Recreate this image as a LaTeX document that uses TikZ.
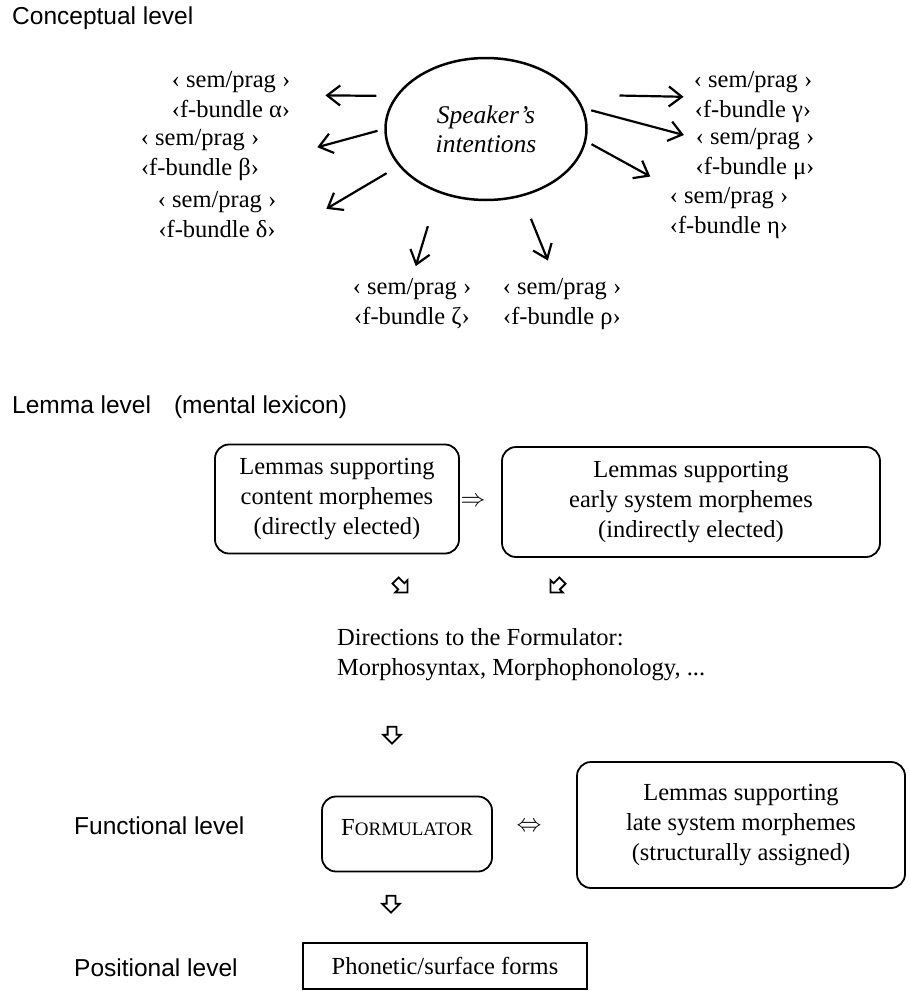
\documentclass[tikz,border=0pt]{standalone}
\usepackage{fontspec}
\setmainfont{Liberation Serif}
\setsansfont{Liberation Sans}
\usetikzlibrary{shapes.geometric,shapes.arrows,arrows.meta}
\newcommand{\fbundle}[3]{\node[bundle] (#1) at (#2) {‹ sem/prag ›\\‹f-bundle #3›};}

\begin{document}
\begin{tikzpicture}[
      x=1pt, y=-1pt,
      every node/.style={inner sep=0pt, font=\fontsize{24.5}{30}\selectfont},
      bundle/.style={align=center},
      levelname/.style={anchor=west, font=\sffamily\fontsize{24.5}{30}\selectfont},
      pointer/.style={line width=2.2pt, -{Straight Barb[length=13pt,width=20pt]}},
      lembox/.style={draw, line width=1.8pt, rounded corners=14pt, align=center, inner sep=6pt},
      hollow/.style={single arrow, draw, line width=1.8pt, inner sep=3.5pt, single arrow head extend=4.5pt, minimum height=17pt}
      ]
      \useasboundingbox (0,0) rectangle (910,991);

      % Conceptual level: the intentions and the bundles they call up
      \node[levelname] (concept) at (12,18) {Conceptual level};
      \node[ellipse, draw, line width=2.5pt, minimum width=201pt, minimum height=142pt, align=center,
            font=\itshape\fontsize{25.5}{29}\selectfont] (spk) at (486,129) {Speaker's\\intentions};

      \fbundle{alpha}{231,95}{α}
      \fbundle{beta}{200,155}{β}
      \fbundle{delta}{217,215}{δ}
      \fbundle{zeta}{412,304}{ζ}
      \fbundle{rho}{562,304}{ρ}
      \fbundle{gamma}{753,97}{γ}
      \fbundle{mu}{755,154}{μ}
      \fbundle{eta}{729,213}{η}

      \draw[pointer, shorten <=19pt, shorten >=35pt] (spk.160) -- (alpha.east);
      \draw[pointer, shorten <=7pt, shorten >=60pt] (spk.180) -- ([yshift=-8pt]beta.east);
      \draw[pointer, shorten <=14pt, shorten >=58pt] (spk.203) -- (delta.south east);
      \draw[pointer, shorten <=35pt, shorten >=13pt] (spk.233) -- (zeta.north);
      \draw[pointer, shorten <=24pt, shorten >=19pt] (spk.298) -- ([xshift=-7pt]rho.north);
      \draw[pointer, shorten <=44pt, shorten >=10pt] (spk.21) -- (gamma.west);
      \draw[pointer, shorten <=8pt, shorten >=12pt] (spk.12) -- ([yshift=-10pt]mu.north west);
      \draw[pointer, shorten <=6pt, shorten >=22pt] (spk.353) -- (eta.north west);

      % Lemma level
      \node[levelname] (lemma) at (12,407) {Lemma level\hspace{23pt}(mental lexicon)};
      \node[lembox, minimum width=244pt, minimum height=109pt] (content) at (337,499)
        {Lemmas supporting\\content morphemes\\(directly elected)};
      \node (impl) at (473,502) {$\Rightarrow$};
      \node[lembox, minimum width=378pt, minimum height=110pt] (early) at (691,502)
        {Lemmas supporting\\early system morphemes\\(indirectly elected)};

      \node[hollow, rotate=-45] (tocenter) at (400,585) {};
      \node[hollow, rotate=-135] (fromright) at (558,585) {};
      \node[anchor=west, align=left] (dirs) at (337,655)
        {Directions to the Formulator:\\Morphosyntax, Morphophonology, ...};
      \node[hollow, rotate=-90] (todown) at (392,733) {};

      % Functional and positional levels
      \node[levelname] (func) at (74,826) {Functional level};
      \node[lembox, minimum width=170pt, minimum height=75pt, text depth=14pt] (form) at (407,834)
        {F{\fontsize{19}{29}\selectfont ORMULATOR}};
      \node (bothway) at (529,827) {$\Leftrightarrow$};
      \node[lembox, minimum width=328pt, minimum height=126pt] (late) at (741,825)
        {Lemmas supporting\\late system morphemes\\(structurally assigned)};
      \node[hollow, rotate=-90] (tosurface) at (391,902) {};

      \node[levelname] (posit) at (74,968) {Positional level};
      \node[draw, line width=1.8pt, minimum width=284pt, minimum height=46pt] (surface) at (445,966)
        {Phonetic/surface forms};
\end{tikzpicture}
\end{document}
